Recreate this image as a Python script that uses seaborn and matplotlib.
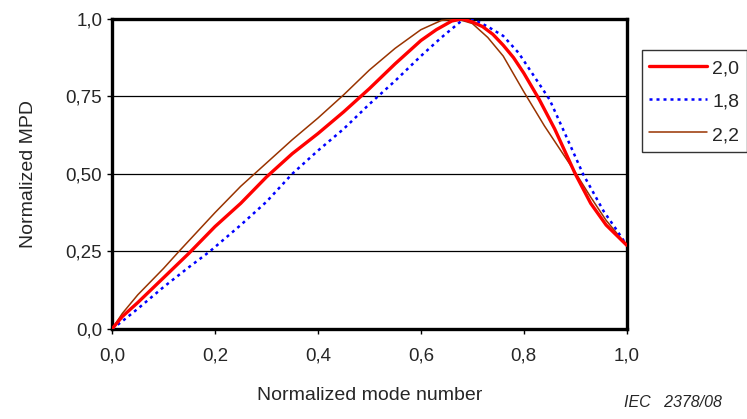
import matplotlib
matplotlib.use("Agg")
import matplotlib.pyplot as plt
import seaborn as sns
import pandas as pd

# curves (normalized mode number vs normalized MPD)
x_20 = [0, 0.02, 0.05, 0.10, 0.15, 0.20, 0.25, 0.30, 0.35, 0.40, 0.45, 0.50, 0.55, 0.60,
        0.63, 0.66, 0.68, 0.70, 0.72, 0.74, 0.76, 0.78, 0.80, 0.83, 0.86, 0.90, 0.93, 0.96, 1.0]
y_20 = [0, 0.04, 0.085, 0.165, 0.245, 0.33, 0.405, 0.49, 0.565, 0.63, 0.70, 0.775, 0.855, 0.93,
        0.965, 0.993, 1.0, 0.99, 0.975, 0.95, 0.915, 0.875, 0.825, 0.74, 0.645, 0.50, 0.405,
        0.335, 0.27]

x_18 = [0, 0.02, 0.05, 0.10, 0.15, 0.19, 0.25, 0.30, 0.35, 0.40, 0.45, 0.50, 0.55, 0.60,
        0.64, 0.68, 0.70, 0.73, 0.76, 0.79, 0.82, 0.85, 0.88, 0.915, 0.955, 0.98, 1.0]
y_18 = [0, 0.025, 0.065, 0.135, 0.20, 0.25, 0.335, 0.41, 0.50, 0.575, 0.645, 0.725, 0.80, 0.88,
        0.94, 0.995, 1.0, 0.975, 0.945, 0.89, 0.815, 0.74, 0.63, 0.50, 0.38, 0.32, 0.27]

x_22 = [0, 0.02, 0.05, 0.10, 0.13, 0.20, 0.25, 0.30, 0.35, 0.40, 0.45, 0.50, 0.55, 0.60,
        0.64, 0.67, 0.70, 0.73, 0.76, 0.80, 0.84, 0.87, 0.90, 0.93, 0.96, 1.0]
y_22 = [0, 0.05, 0.11, 0.195, 0.25, 0.375, 0.46, 0.535, 0.61, 0.68, 0.755, 0.835, 0.905, 0.965,
        0.995, 1.0, 0.985, 0.94, 0.88, 0.765, 0.655, 0.58, 0.505, 0.425, 0.35, 0.27]

labels = ["2,0", "1,8", "2,2"]
x_ticks = [0, 0.2, 0.4, 0.6, 0.8, 1.0]
x_ticklabels = ["0,0", "0,2", "0,4", "0,6", "0,8", "1,0"]
y_ticks = [0, 0.25, 0.5, 0.75, 1.0]
y_ticklabels = ["0,0", "0,25", "0,50", "0,75", "1,0"]

sns.set_style("white")
plt.rcParams["font.family"] = ["Liberation Sans", "DejaVu Sans"]

fig = plt.figure(figsize=(7.47, 4.19), dpi=100)
ax = fig.add_axes([0.150, 0.215, 0.689, 0.740])

# horizontal grid lines
for yv in y_ticks[1:-1]:
    ax.axhline(yv, color="black", linewidth=0.9, zorder=1)

df20 = pd.DataFrame({"x": x_20, "y": y_20})
df18 = pd.DataFrame({"x": x_18, "y": y_18})
df22 = pd.DataFrame({"x": x_22, "y": y_22})

sns.lineplot(data=df22, x="x", y="y", ax=ax, color="#993300", linewidth=1.1,
             label=labels[2], zorder=3, sort=False)
sns.lineplot(data=df18, x="x", y="y", ax=ax, color="#0000FF", linewidth=1.8,
             linestyle=(0, (1.2, 1.6)), label=labels[1], zorder=4, sort=False)
sns.lineplot(data=df20, x="x", y="y", ax=ax, color="#FF0000", linewidth=2.4,
             label=labels[0], zorder=5, sort=False)

ax.set_xlim(0, 1)
ax.set_ylim(0, 1)
ax.set_xticks(x_ticks)
ax.set_xticklabels(x_ticklabels, fontsize=13.5)
ax.set_yticks(y_ticks)
ax.set_yticklabels(y_ticklabels, fontsize=13.5)
ax.tick_params(axis="both", direction="out", length=3.5, width=1, color="black",
               bottom=True, left=True)
ax.tick_params(axis="y", pad=3.5)
ax.tick_params(axis="x", pad=10)
ax.set_xlabel("Normalized mode number", fontsize=14, labelpad=16)
ax.set_ylabel("Normalized MPD", fontsize=14, labelpad=21)

for s in ax.spines.values():
    s.set_visible(True)
    s.set_color("black")
    s.set_linewidth(2.4)

handles, lbls = ax.get_legend_handles_labels()
order = [2, 1, 0]
leg = ax.legend([handles[i] for i in order], [lbls[i] for i in order],
                loc="upper left", bbox_to_anchor=(1.029, 0.90), fontsize=14,
                frameon=True, fancybox=False, edgecolor="black", handlelength=2.95,
                handleheight=1.08, handletextpad=0.28, labelspacing=0.7,
                borderpad=0.4, borderaxespad=0)
leg.get_frame().set_linewidth(1.0)

fig.text(0.966, 0.028, "IEC   2378/08", fontsize=11.5, style="italic", ha="right")

fig.savefig("out.png", dpi=100)
